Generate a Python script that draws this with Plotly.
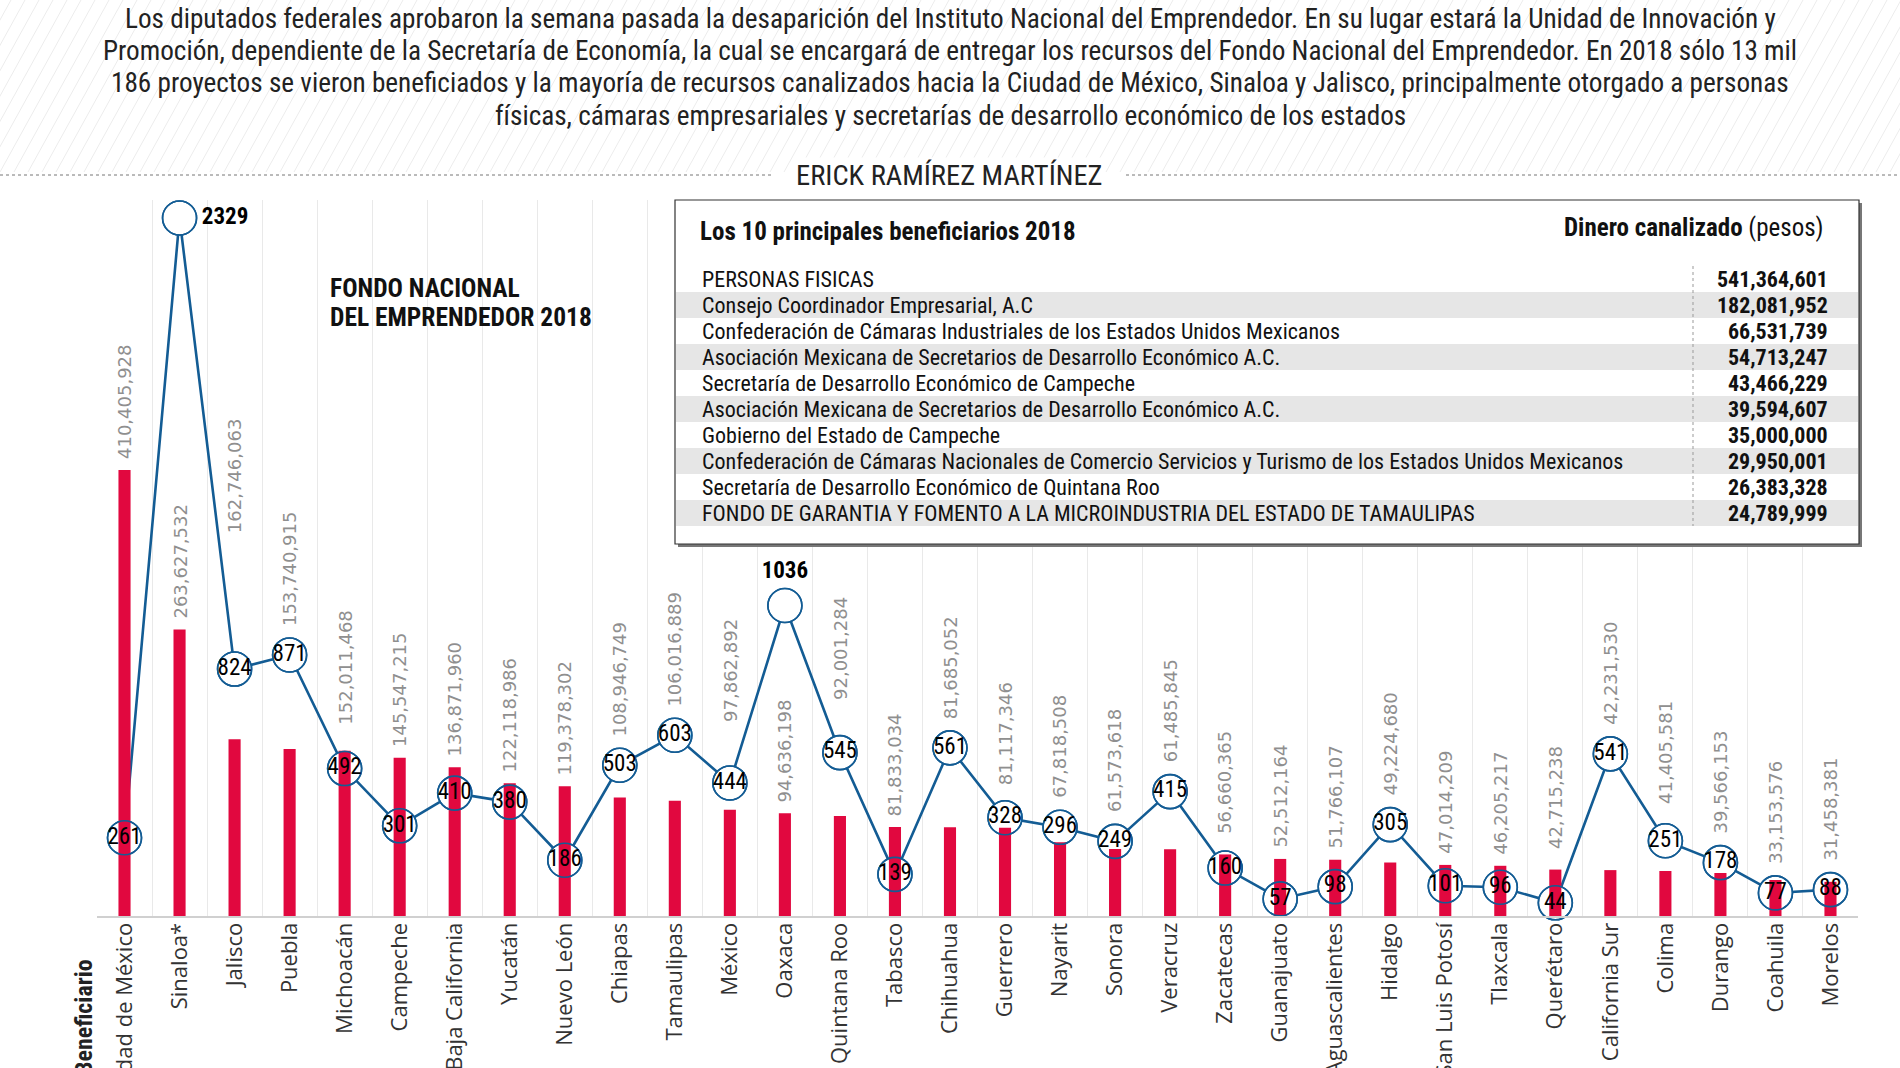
import plotly.graph_objects as go

# ---------------- data ----------------
estados = ["Ciudad de México", "Sinaloa*", "Jalisco", "Puebla", "Michoacán", "Campeche",
           "Baja California", "Yucatán", "Nuevo León", "Chiapas", "Tamaulipas", "México",
           "Oaxaca", "Quintana Roo", "Tabasco", "Chihuahua", "Guerrero", "Nayarit", "Sonora",
           "Veracruz", "Zacatecas", "Guanajuato", "Aguascalientes", "Hidalgo", "San Luis Potosí",
           "Tlaxcala", "Querétaro", "Baja California Sur", "Colima", "Durango", "Coahuila", "Morelos"]

dinero = [410405928, 263627532, 162746063, 153740915, 152011468, 145547215,
          136871960, 122118986, 119378302, 108946749, 106016889, 97862892,
          94636198, 92001284, 81833034, 81685052, 81117346, 67818508, 61573618,
          61485845, 56660365, 52512164, 51766107, 49224680, 47014209,
          46205217, 42715238, 42231530, 41405581, 39566153, 33153576, 31458381]

beneficiarios = [261, 2329, 824, 871, 492, 301, 410, 380, 186, 503, 603, 444,
                 1036, 545, 139, 561, 328, 296, 249, 415, 160, 57, 98, 305, 101,
                 96, 44, 541, 251, 178, 77, 88]

top10_nombres = ["PERSONAS FISICAS",
                 "Consejo Coordinador Empresarial, A.C",
                 "Confederación de Cámaras Industriales de los Estados Unidos Mexicanos",
                 "Asociación Mexicana de Secretarios de Desarrollo Económico A.C.",
                 "Secretaría de Desarrollo Económico de Campeche",
                 "Asociación Mexicana de Secretarios de Desarrollo Económico A.C.",
                 "Gobierno del Estado de Campeche",
                 "Confederación de Cámaras Nacionales de Comercio Servicios y Turismo de los Estados Unidos Mexicanos",
                 "Secretaría de Desarrollo Económico de Quintana Roo",
                 "FONDO DE GARANTIA Y FOMENTO A LA MICROINDUSTRIA DEL ESTADO DE TAMAULIPAS"]
top10_pesos = [541364601, 182081952, 66531739, 54713247, 43466229,
               39594607, 35000000, 29950001, 26383328, 24789999]

intro = ["Los diputados federales aprobaron la semana pasada la desaparición del Instituto Nacional del Emprendedor. En su lugar estará la Unidad de Innovación y",
         "Promoción, dependiente de la Secretaría de Economía, la cual se encargará de entregar los recursos del Fondo Nacional del Emprendedor. En 2018 sólo 13 mil",
         "186 proyectos se vieron beneficiados y la mayoría de recursos canalizados hacia la Ciudad de México, Sinaloa y Jalisco, principalmente otorgado a personas",
         "físicas, cámaras empresariales y secretarías de desarrollo económico de los estados"]

autor = "ERICK RAMÍREZ MARTÍNEZ"
titulo = ["FONDO NACIONAL", "DEL EMPRENDEDOR 2018"]
tabla_titulo = "Los 10 principales beneficiarios 2018"
tabla_col = "<b>Dinero canalizado</b> (pesos)"
eje_titulo = "Beneficiario"

# ---------------- styling ----------------
NARROW = "Liberation Sans Narrow, Arial Narrow, Roboto Condensed, sans-serif"
RED = "#e1083f"
BLUE = "#135c94"

W_FIG, H_FIG = 1900, 1068
L, R, T, B = 97, 1858, 200, 916
PW, PH = R - L, B - T
N = len(estados)


def px(x):
    return (x - L) / PW


def py(y):
    return (B - y) / PH


count_top = max(beneficiarios) * PH / (B - 218)
money_top = dinero[0] * PH / (B - 470)
kC = PH / count_top      # px per beneficiary
kM = PH / money_top      # px per peso
colw = PW / N

MARKER = 34
LBL_SIZE = 18

fig = go.Figure()

# line with white-filled circles (bottom layer)
fig.add_trace(go.Scatter(
    x=estados, y=beneficiarios, mode="lines+markers", yaxis="y",
    line=dict(color=BLUE, width=2.6),
    marker=dict(size=MARKER, color="white", line=dict(color=BLUE, width=1.6)),
    hoverinfo="skip", showlegend=False, cliponaxis=False))

# bars (middle layer)
fig.add_trace(go.Bar(
    x=estados, y=dinero, yaxis="y2", width=0.22,
    marker=dict(color=RED, line=dict(width=0)),
    showlegend=False, hoverinfo="skip"))

# circle outlines + numbers (top layer)
vmax = max(beneficiarios)
pos = []
txt = []
for v in beneficiarios:
    if v == vmax:
        pos.append("middle right")
        txt.append(f"<b>{v}</b>")
    elif v > 1000:
        pos.append("top center")
        txt.append(f"<b>{v}</b>")
    else:
        pos.append("middle center")
        txt.append(str(v))
fig.add_trace(go.Scatter(
    x=estados, y=beneficiarios, mode="markers+text", yaxis="y3",
    marker=dict(size=MARKER, color="rgba(0,0,0,0)", line=dict(color=BLUE, width=1.6)),
    text=txt, textposition=pos,
    textfont=dict(family=NARROW, size=23, color="black"),
    hoverinfo="skip", showlegend=False, cliponaxis=False))

shapes = []
annotations = []

# money labels: above the bar, lifted past the circle / line when they are in the way
def label_len(s):
    return sum(0.636 if c.isdigit() else 0.318 for c in s) * LBL_SIZE

gap, hw, rad = 10, 15, MARKER / 2 + 1
for i, (name, m) in enumerate(zip(estados, dinero)):
    s = f"{m:,}"
    ln = label_len(s)
    yc = B - beneficiarios[i] * kC
    occ = [(yc - rad, yc + rad)]
    for j in (i - 1, i + 1):
        if 0 <= j < N:
            yj = B - beneficiarios[j] * kC
            ye = yc + (yj - yc) * hw / colw
            occ.append((min(yc, ye) - 2, max(yc, ye) + 2))
    bottom = B - m * kM - gap
    moved = True
    while moved:
        moved = False
        top = bottom - ln
        for ot, ob in occ:
            if top < ob + gap and bottom > ot - gap:
                bottom = ot - gap
                moved = True
                break
    annotations.append(dict(text=s, xref="x", yref="y2", x=name, y=(B - bottom) / kM,
                            xanchor="center", yanchor="bottom", textangle=-90, showarrow=False,
                            borderpad=0, font=dict(family="DejaVu Sans", size=LBL_SIZE, color="#8f8f8f")))

# header hatch background
for k in range(-12, 150):
    x0 = k * 14
    shapes.append(dict(type="line", xref="paper", yref="paper",
                       x0=px(x0), y0=py(172), x1=px(x0 + 95), y1=py(0),
                       line=dict(color="#ececec", width=1), layer="below"))

# dotted rules around author
shapes.append(dict(type="line", xref="paper", yref="paper", x0=px(0), x1=px(772),
                   y0=py(175), y1=py(175), line=dict(color="#777", width=1, dash="dot")))
shapes.append(dict(type="line", xref="paper", yref="paper", x0=px(1126), x1=px(1900),
                   y0=py(175), y1=py(175), line=dict(color="#777", width=1, dash="dot")))

# intro paragraph
for i, line in enumerate(intro):
    annotations.append(dict(text=line, xref="paper", yref="paper", x=px(950), y=py(19 + 32.2 * i),
                            xanchor="center", yanchor="middle", showarrow=False,
                            font=dict(family=NARROW, size=27.2, color="#222")))
annotations.append(dict(text=autor, xref="paper", yref="paper", x=px(949), y=py(176),
                        xanchor="center", yanchor="middle", showarrow=False, bgcolor="white",
                        font=dict(family=NARROW, size=28.5, color="#222")))

# chart title
for i, line in enumerate(titulo):
    annotations.append(dict(text=f"<b>{line}</b>", xref="paper", yref="paper", x=px(328), y=py(288 + 29 * i),
                            xanchor="left", yanchor="middle", showarrow=False,
                            font=dict(family=NARROW, size=25.5, color="#111")))

# x axis title
annotations.append(dict(text=f"<b>{eje_titulo}</b>", xref="paper", yref="paper", x=px(84), y=py(957),
                        xanchor="center", yanchor="top", textangle=-90, showarrow=False,
                        font=dict(family=NARROW, size=24, color="#222")))

# table box
bx0, by0, bx1, by1 = 675, 200, 1859, 544
shapes.append(dict(type="rect", xref="paper", yref="paper", x0=px(bx0 + 3), y0=py(by0 + 3),
                   x1=px(bx1 + 3), y1=py(by1 + 3), fillcolor="#777", line=dict(width=0), layer="above"))
shapes.append(dict(type="rect", xref="paper", yref="paper", x0=px(bx0), y0=py(by0),
                   x1=px(bx1), y1=py(by1), fillcolor="white", line=dict(color="#333", width=1.2), layer="above"))
row_y0, row_h = 279, 26.0
for i, (n, v) in enumerate(zip(top10_nombres, top10_pesos)):
    yc = row_y0 + row_h * i
    if i % 2 == 1:
        shapes.append(dict(type="rect", xref="paper", yref="paper", x0=px(bx0 + 1), x1=px(bx1 - 1),
                           y0=py(yc - row_h / 2), y1=py(yc + row_h / 2), fillcolor="#e6e6e6",
                           line=dict(width=0), layer="above"))
    annotations.append(dict(text=n, xref="paper", yref="paper", x=px(700), y=py(yc),
                            xanchor="left", yanchor="middle", showarrow=False,
                            font=dict(family=NARROW, size=22, color="#111")))
    annotations.append(dict(text=f"<b>{v:,}</b>", xref="paper", yref="paper", x=px(1830), y=py(yc),
                            xanchor="right", yanchor="middle", showarrow=False,
                            font=dict(family=NARROW, size=22, color="#111")))
shapes.append(dict(type="line", xref="paper", yref="paper", x0=px(1693), x1=px(1693),
                   y0=py(266), y1=py(526), line=dict(color="#999", width=1, dash="dot"), layer="above"))
annotations.append(dict(text=f"<b>{tabla_titulo}</b>", xref="paper", yref="paper", x=px(698), y=py(231),
                        xanchor="left", yanchor="middle", showarrow=False,
                        font=dict(family=NARROW, size=25, color="#111")))
annotations.append(dict(text=tabla_col, xref="paper", yref="paper", x=px(1826), y=py(227),
                        xanchor="right", yanchor="middle", showarrow=False,
                        font=dict(family=NARROW, size=25, color="#111")))

fig.update_layout(
    width=W_FIG, height=H_FIG, autosize=False,
    margin=dict(l=L, r=W_FIG - R, t=T, b=H_FIG - B, pad=0, autoexpand=False),
    paper_bgcolor="white", plot_bgcolor="white",
    showlegend=False,
    xaxis=dict(type="category", range=[-0.5, N - 0.5], tickson="boundaries",
               showgrid=True, gridcolor="#e9e9e9", gridwidth=1,
               showline=True, linecolor="#d0d0d0", linewidth=2, automargin=False,
               ticks="", tickangle=-90, ticklabelstandoff=-4,
               tickfont=dict(family="Open Sans", size=22, color="#333"), fixedrange=True),
    yaxis=dict(range=[0, count_top], visible=False, fixedrange=True, automargin=False),
    yaxis2=dict(range=[0, money_top], overlaying="y", visible=False, fixedrange=True, automargin=False),
    yaxis3=dict(range=[0, count_top], overlaying="y", visible=False, fixedrange=True, automargin=False),
    shapes=shapes, annotations=annotations,
)

fig.write_html("out.html")
